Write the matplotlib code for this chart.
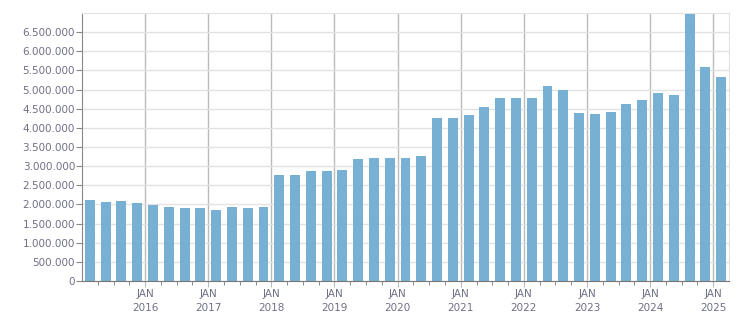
import matplotlib
matplotlib.use("Agg")
import matplotlib.pyplot as plt
from matplotlib.ticker import FixedLocator, FuncFormatter

# quarterly values, Q1 2015 .. Q1 2025
values = [
    2108000, 2056000, 2082000, 2030000,   # 2015
    1977000, 1925000, 1899000, 1899000,   # 2016
    1847000, 1925000, 1899000, 1925000,   # 2017
    2761000, 2761000, 2866000, 2866000,   # 2018
    2892000, 3179000, 3206000, 3206000,   # 2019
    3206000, 3258000, 4251000, 4251000,   # 2020
    4329000, 4538000, 4774000, 4774000,   # 2021
    4774000, 5087000, 4983000, 4382000,   # 2022
    4355000, 4408000, 4617000, 4721000,   # 2023
    4904000, 4852000, 6980000, 5584000,   # 2024
    5322000,                              # 2025
]
years = [2016, 2017, 2018, 2019, 2020, 2021, 2022, 2023, 2024, 2025]
y_ticks = list(range(0, 6500001, 500000))

BAR = "#77b0d3"
TXT = "#6f6f86"

fig = plt.figure(figsize=(7.51, 3.13), dpi=100)
ax = fig.add_axes([82 / 751, 1 - 281 / 313, (729 - 82) / 751, (281 - 13) / 313])

n = len(values)
xs = [i + 0.5 for i in range(n)]
ax.bar(xs, values, width=0.63, color=BAR, zorder=3)

ax.set_xlim(0, n)
ax.set_ylim(0, 7000000)

# y axis
ax.yaxis.set_major_locator(FixedLocator(y_ticks))
ax.yaxis.set_major_formatter(FuncFormatter(
    lambda v, p: f"{int(v):,}".replace(",", ".")))
ax.grid(axis="y", color="#e2e2e2", linewidth=1, zorder=0)

# x axis: major ticks at January, minor at each quarter
jan_pos = [(y - 2015) * 4 for y in years]
ax.xaxis.set_major_locator(FixedLocator(jan_pos))
ax.xaxis.set_minor_locator(FixedLocator(list(range(1, n))))
ax.set_xticklabels([f"JAN\n{y}" for y in years])
for p in jan_pos:
    ax.axvline(p, color="#bbbbbb", linewidth=1, zorder=1)

ax.tick_params(axis="x", which="major", length=4, color="#bbbbbb",
               labelsize=7.5, labelcolor=TXT, pad=2)
ax.tick_params(axis="x", which="minor", length=3, color="#777777")
ax.tick_params(axis="y", length=4, color="#888888", labelsize=7.5,
               labelcolor=TXT, pad=1)
for lbl in ax.get_xticklabels():
    lbl.set_linespacing(1.5)

ax.spines["left"].set_color("#888888")
ax.spines["bottom"].set_color("#777777")
ax.spines["top"].set_color("#e2e2e2")
ax.spines["right"].set_color("#e2e2e2")
ax.spines["bottom"].set_zorder(4)

fig.savefig("out.png", dpi=100)
